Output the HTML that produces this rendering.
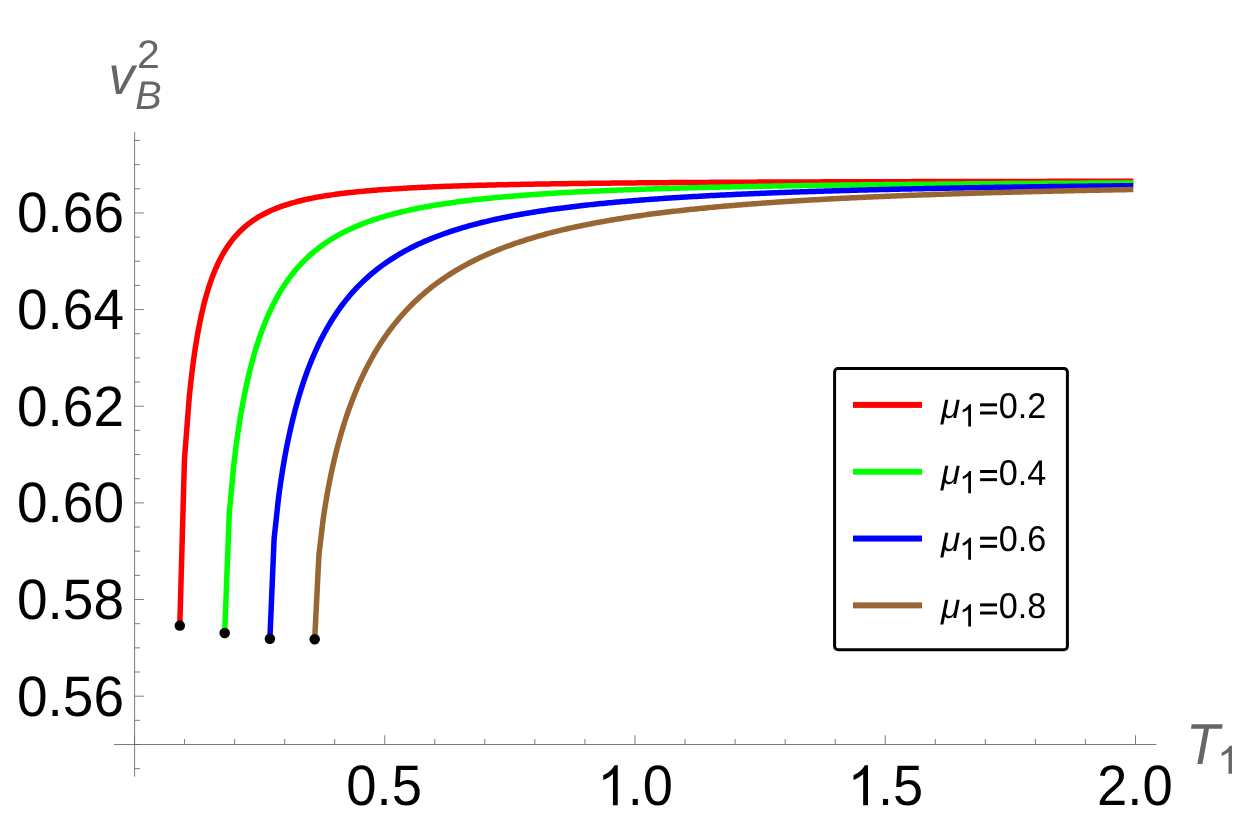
<!DOCTYPE html>
<html><head><meta charset="utf-8"><title>vB2 vs T1</title>
<style>html,body{margin:0;padding:0;background:#fff;}svg{display:block;will-change:transform;}text{font-family:"Liberation Sans",sans-serif;text-rendering:geometricPrecision;}</style>
</head><body>
<svg width="1241" height="835" viewBox="0 0 1241 835">
<rect x="0" y="0" width="1241" height="835" fill="#ffffff"/>
<g stroke="#666666" stroke-width="0.85" fill="none">
<line x1="114" y1="744.5" x2="1156.5" y2="744.5"/>
<line x1="134.62" y1="132.1" x2="134.62" y2="776.7"/>
<line x1="134.5" y1="768.66" x2="140.00" y2="768.66"/>
<line x1="134.5" y1="744.50" x2="140.00" y2="744.50"/>
<line x1="134.5" y1="720.34" x2="140.00" y2="720.34"/>
<line x1="134.5" y1="696.18" x2="143.80" y2="696.18"/>
<line x1="134.5" y1="672.01" x2="140.00" y2="672.01"/>
<line x1="134.5" y1="647.85" x2="140.00" y2="647.85"/>
<line x1="134.5" y1="623.69" x2="140.00" y2="623.69"/>
<line x1="134.5" y1="599.53" x2="143.80" y2="599.53"/>
<line x1="134.5" y1="575.37" x2="140.00" y2="575.37"/>
<line x1="134.5" y1="551.20" x2="140.00" y2="551.20"/>
<line x1="134.5" y1="527.04" x2="140.00" y2="527.04"/>
<line x1="134.5" y1="502.88" x2="143.80" y2="502.88"/>
<line x1="134.5" y1="478.72" x2="140.00" y2="478.72"/>
<line x1="134.5" y1="454.56" x2="140.00" y2="454.56"/>
<line x1="134.5" y1="430.39" x2="140.00" y2="430.39"/>
<line x1="134.5" y1="406.23" x2="143.80" y2="406.23"/>
<line x1="134.5" y1="382.07" x2="140.00" y2="382.07"/>
<line x1="134.5" y1="357.91" x2="140.00" y2="357.91"/>
<line x1="134.5" y1="333.75" x2="140.00" y2="333.75"/>
<line x1="134.5" y1="309.58" x2="143.80" y2="309.58"/>
<line x1="134.5" y1="285.42" x2="140.00" y2="285.42"/>
<line x1="134.5" y1="261.26" x2="140.00" y2="261.26"/>
<line x1="134.5" y1="237.10" x2="140.00" y2="237.10"/>
<line x1="134.5" y1="212.94" x2="143.80" y2="212.94"/>
<line x1="134.5" y1="188.77" x2="140.00" y2="188.77"/>
<line x1="134.5" y1="164.61" x2="140.00" y2="164.61"/>
<line x1="134.5" y1="140.45" x2="140.00" y2="140.45"/>
<line x1="134.50" y1="744.5" x2="134.50" y2="735.20"/>
<line x1="184.55" y1="744.5" x2="184.55" y2="739.00"/>
<line x1="234.60" y1="744.5" x2="234.60" y2="739.00"/>
<line x1="284.65" y1="744.5" x2="284.65" y2="739.00"/>
<line x1="334.70" y1="744.5" x2="334.70" y2="739.00"/>
<line x1="384.75" y1="744.5" x2="384.75" y2="735.20"/>
<line x1="434.79" y1="744.5" x2="434.79" y2="739.00"/>
<line x1="484.84" y1="744.5" x2="484.84" y2="739.00"/>
<line x1="534.89" y1="744.5" x2="534.89" y2="739.00"/>
<line x1="584.94" y1="744.5" x2="584.94" y2="739.00"/>
<line x1="634.99" y1="744.5" x2="634.99" y2="735.20"/>
<line x1="685.04" y1="744.5" x2="685.04" y2="739.00"/>
<line x1="735.09" y1="744.5" x2="735.09" y2="739.00"/>
<line x1="785.14" y1="744.5" x2="785.14" y2="739.00"/>
<line x1="835.19" y1="744.5" x2="835.19" y2="739.00"/>
<line x1="885.24" y1="744.5" x2="885.24" y2="735.20"/>
<line x1="935.28" y1="744.5" x2="935.28" y2="739.00"/>
<line x1="985.33" y1="744.5" x2="985.33" y2="739.00"/>
<line x1="1035.38" y1="744.5" x2="1035.38" y2="739.00"/>
<line x1="1085.43" y1="744.5" x2="1085.43" y2="739.00"/>
<line x1="1135.48" y1="744.5" x2="1135.48" y2="735.20"/>
</g>
<g font-size="55" fill="#000000">
<text transform="matrix(1 0 0 1.037 124.05 715.58)" text-anchor="end">0.56</text>
<text transform="matrix(1 0 0 1.037 124.05 618.93)" text-anchor="end">0.58</text>
<text transform="matrix(1 0 0 1.037 124.05 522.28)" text-anchor="end">0.60</text>
<text transform="matrix(1 0 0 1.037 124.05 425.63)" text-anchor="end">0.62</text>
<text transform="matrix(1 0 0 1.037 124.05 328.98)" text-anchor="end">0.64</text>
<text transform="matrix(1 0 0 1.037 124.05 232.34)" text-anchor="end">0.66</text>
<text transform="matrix(0.99 0 0 1.037 384.14 805.2)" text-anchor="middle">0.5</text>
<text transform="matrix(0.99 0 0 1.037 1134.88 805.2)" text-anchor="middle">2.0</text>
<path d="M763 0H583V1147Q518 1085 412.5 1023T223 930V1104Q373 1174.5 485.5 1275T644 1470H763Z" transform="matrix(0.02686 0 0 -0.02710 597.26 805.20)" fill="#000"/>
<text transform="matrix(0.985 0 0 1.037 627.65 805.2)">.0</text>
<path d="M763 0H583V1147Q518 1085 412.5 1023T223 930V1104Q373 1174.5 485.5 1275T644 1470H763Z" transform="matrix(0.02686 0 0 -0.02710 847.51 805.20)" fill="#000"/>
<text transform="matrix(0.985 0 0 1.037 877.89 805.2)">.5</text>
</g>
<g fill="#666666">
<text transform="matrix(0.9549 0 0 0.9791 108.43 93.85)" font-size="55" font-style="italic">v</text>
<text transform="matrix(1.0497 0 0 1.0227 136.99 67.75)" font-size="39">2</text>
<text transform="matrix(1.0158 0 0 1.0249 135.13 108.70)" font-size="39" font-style="italic">B</text>
<text transform="matrix(0.9967 0 0 1.0505 1185.97 763.80)" font-size="55" font-style="italic">T</text>
<path d="M763 0H583V1147Q518 1085 412.5 1023T223 930V1104Q373 1174.5 485.5 1275T644 1470H763Z" transform="matrix(0.01909 0 0 -0.01895 1217.39 773.70)" fill="#666666"/>
</g>
<g fill="none" stroke-width="5.5" stroke-linejoin="round" stroke-linecap="butt">
<path d="M179.80,625.60 L184.47,459.18 L189.35,396.09 L191.35,377.47 L193.35,361.52 L195.35,347.66 L197.36,335.49 L199.36,324.72 L201.36,315.13 L203.36,306.52 L205.36,298.76 L207.37,291.73 L209.37,285.35 L211.37,279.52 L213.37,274.18 L215.37,269.28 L217.38,264.77 L219.38,260.60 L221.38,256.74 L223.38,253.17 L225.38,249.84 L227.39,246.75 L229.39,243.86 L231.39,241.16 L233.39,238.64 L235.39,236.27 L237.40,234.05 L239.40,231.95 L241.40,229.99 L243.40,228.13 L245.40,226.38 L247.40,224.72 L249.41,223.16 L251.41,221.68 L253.41,220.27 L255.41,218.94 L257.41,217.67 L259.42,216.47 L261.42,215.32 L263.42,214.23 L265.42,213.19 L267.42,212.20 L269.43,211.25 L271.43,210.35 L273.43,209.49 L275.43,208.66 L277.43,207.87 L279.44,207.11 L281.44,206.38 L283.44,205.69 L285.44,205.02 L287.44,204.38 L289.45,203.76 L291.45,203.17 L293.45,202.60 L295.45,202.05 L297.45,201.52 L299.46,201.01 L301.46,200.52 L303.46,200.05 L305.46,199.59 L307.46,199.15 L309.47,198.73 L311.47,198.32 L313.47,197.92 L315.47,197.54 L317.47,197.17 L319.48,196.81 L321.48,196.47 L323.48,196.13 L325.48,195.81 L327.48,195.49 L329.49,195.19 L331.49,194.89 L333.49,194.61 L335.49,194.33 L337.49,194.06 L339.50,193.80 L341.50,193.54 L343.50,193.30 L345.50,193.06 L347.50,192.83 L349.50,192.60 L351.51,192.38 L353.51,192.17 L355.51,191.96 L357.51,191.76 L359.51,191.56 L361.52,191.37 L363.52,191.18 L365.52,191.00 L367.52,190.82 L369.52,190.65 L371.53,190.48 L373.53,190.32 L375.53,190.16 L377.53,190.00 L379.53,189.85 L381.54,189.70 L383.54,189.56 L385.54,189.42 L387.54,189.28 L389.54,189.14 L391.55,189.01 L393.55,188.88 L395.55,188.76 L397.55,188.64 L399.55,188.52 L401.56,188.40 L403.56,188.29 L405.56,188.17 L407.56,188.06 L409.56,187.96 L411.57,187.85 L413.57,187.75 L415.57,187.65 L417.57,187.55 L419.57,187.46 L421.58,187.36 L423.58,187.27 L425.58,187.18 L427.58,187.09 L429.58,187.00 L431.59,186.92 L433.59,186.84 L435.59,186.76 L437.59,186.68 L439.59,186.60 L441.60,186.52 L443.60,186.45 L445.60,186.37 L447.60,186.30 L449.60,186.23 L451.60,186.16 L453.61,186.09 L455.61,186.02 L457.61,185.96 L459.61,185.89 L461.61,185.83 L463.62,185.77 L465.62,185.71 L467.62,185.65 L469.62,185.59 L471.62,185.53 L473.63,185.47 L475.63,185.42 L477.63,185.36 L479.63,185.31 L481.63,185.26 L483.64,185.20 L485.64,185.15 L487.64,185.10 L489.64,185.05 L491.64,185.00 L493.65,184.96 L495.65,184.91 L497.65,184.86 L499.65,184.82 L501.65,184.77 L503.66,184.73 L505.66,184.69 L507.66,184.64 L509.66,184.60 L511.66,184.56 L513.67,184.52 L515.67,184.48 L517.67,184.44 L519.67,184.40 L521.67,184.36 L523.68,184.33 L525.68,184.29 L527.68,184.25 L529.68,184.22 L531.68,184.18 L533.69,184.15 L535.69,184.11 L537.69,184.08 L539.69,184.05 L541.69,184.01 L543.70,183.98 L545.70,183.95 L547.70,183.92 L549.70,183.89 L551.70,183.86 L553.70,183.83 L555.71,183.80 L557.71,183.77 L559.71,183.74 L561.71,183.71 L563.71,183.68 L565.72,183.66 L567.72,183.63 L569.72,183.60 L571.72,183.58 L573.72,183.55 L575.73,183.52 L577.73,183.50 L579.73,183.47 L581.73,183.45 L583.73,183.43 L585.74,183.40 L587.74,183.38 L589.74,183.35 L591.74,183.33 L593.74,183.31 L595.75,183.29 L597.75,183.26 L599.75,183.24 L601.75,183.22 L603.75,183.20 L605.76,183.18 L607.76,183.16 L609.76,183.14 L611.76,183.12 L613.76,183.10 L615.77,183.08 L617.77,183.06 L619.77,183.04 L621.77,183.02 L623.77,183.00 L625.78,182.98 L627.78,182.96 L629.78,182.95 L631.78,182.93 L633.78,182.91 L635.79,182.89 L637.79,182.87 L639.79,182.86 L641.79,182.84 L643.79,182.82 L645.79,182.81 L647.80,182.79 L649.80,182.78 L651.80,182.76 L653.80,182.74 L655.80,182.73 L657.81,182.71 L659.81,182.70 L661.81,182.68 L663.81,182.67 L665.81,182.65 L667.82,182.64 L669.82,182.62 L671.82,182.61 L673.82,182.60 L675.82,182.58 L677.83,182.57 L679.83,182.56 L681.83,182.54 L683.83,182.53 L685.83,182.52 L687.84,182.50 L689.84,182.49 L691.84,182.48 L693.84,182.46 L695.84,182.45 L697.85,182.44 L699.85,182.43 L701.85,182.42 L703.85,182.40 L705.85,182.39 L707.86,182.38 L709.86,182.37 L711.86,182.36 L713.86,182.35 L715.86,182.33 L717.87,182.32 L719.87,182.31 L721.87,182.30 L723.87,182.29 L725.87,182.28 L727.88,182.27 L729.88,182.26 L731.88,182.25 L733.88,182.24 L735.88,182.23 L737.89,182.22 L739.89,182.21 L741.89,182.20 L743.89,182.19 L745.89,182.18 L747.89,182.17 L749.90,182.16 L751.90,182.15 L753.90,182.14 L755.90,182.13 L757.90,182.12 L759.91,182.11 L761.91,182.11 L763.91,182.10 L765.91,182.09 L767.91,182.08 L769.92,182.07 L771.92,182.06 L773.92,182.05 L775.92,182.05 L777.92,182.04 L779.93,182.03 L781.93,182.02 L783.93,182.01 L785.93,182.01 L787.93,182.00 L789.94,181.99 L791.94,181.98 L793.94,181.97 L795.94,181.97 L797.94,181.96 L799.95,181.95 L801.95,181.94 L803.95,181.94 L805.95,181.93 L807.95,181.92 L809.96,181.92 L811.96,181.91 L813.96,181.90 L815.96,181.89 L817.96,181.89 L819.97,181.88 L821.97,181.87 L823.97,181.87 L825.97,181.86 L827.97,181.85 L829.98,181.85 L831.98,181.84 L833.98,181.83 L835.98,181.83 L837.98,181.82 L839.99,181.82 L841.99,181.81 L843.99,181.80 L845.99,181.80 L847.99,181.79 L849.99,181.79 L852.00,181.78 L854.00,181.77 L856.00,181.77 L858.00,181.76 L860.00,181.76 L862.01,181.75 L864.01,181.74 L866.01,181.74 L868.01,181.73 L870.01,181.73 L872.02,181.72 L874.02,181.72 L876.02,181.71 L878.02,181.71 L880.02,181.70 L882.03,181.70 L884.03,181.69 L886.03,181.69 L888.03,181.68 L890.03,181.68 L892.04,181.67 L894.04,181.67 L896.04,181.66 L898.04,181.66 L900.04,181.65 L902.05,181.65 L904.05,181.64 L906.05,181.64 L908.05,181.63 L910.05,181.63 L912.06,181.62 L914.06,181.62 L916.06,181.61 L918.06,181.61 L920.06,181.60 L922.07,181.60 L924.07,181.59 L926.07,181.59 L928.07,181.59 L930.07,181.58 L932.08,181.58 L934.08,181.57 L936.08,181.57 L938.08,181.56 L940.08,181.56 L942.09,181.56 L944.09,181.55 L946.09,181.55 L948.09,181.54 L950.09,181.54 L952.09,181.54 L954.10,181.53 L956.10,181.53 L958.10,181.52 L960.10,181.52 L962.10,181.52 L964.11,181.51 L966.11,181.51 L968.11,181.50 L970.11,181.50 L972.11,181.50 L974.12,181.49 L976.12,181.49 L978.12,181.49 L980.12,181.48 L982.12,181.48 L984.13,181.48 L986.13,181.47 L988.13,181.47 L990.13,181.46 L992.13,181.46 L994.14,181.46 L996.14,181.45 L998.14,181.45 L1000.14,181.45 L1002.14,181.44 L1004.15,181.44 L1006.15,181.44 L1008.15,181.43 L1010.15,181.43 L1012.15,181.43 L1014.16,181.42 L1016.16,181.42 L1018.16,181.42 L1020.16,181.42 L1022.16,181.41 L1024.17,181.41 L1026.17,181.41 L1028.17,181.40 L1030.17,181.40 L1032.17,181.40 L1034.18,181.39 L1036.18,181.39 L1038.18,181.39 L1040.18,181.38 L1042.18,181.38 L1044.19,181.38 L1046.19,181.38 L1048.19,181.37 L1050.19,181.37 L1052.19,181.37 L1054.19,181.36 L1056.20,181.36 L1058.20,181.36 L1060.20,181.36 L1062.20,181.35 L1064.20,181.35 L1066.21,181.35 L1068.21,181.35 L1070.21,181.34 L1072.21,181.34 L1074.21,181.34 L1076.22,181.33 L1078.22,181.33 L1080.22,181.33 L1082.22,181.33 L1084.22,181.32 L1086.23,181.32 L1088.23,181.32 L1090.23,181.32 L1092.23,181.31 L1094.23,181.31 L1096.24,181.31 L1098.24,181.31 L1100.24,181.30 L1102.24,181.30 L1104.24,181.30 L1106.25,181.30 L1108.25,181.30 L1110.25,181.29 L1112.25,181.29 L1114.25,181.29 L1116.26,181.29 L1118.26,181.28 L1120.26,181.28 L1122.26,181.28 L1124.26,181.28 L1126.27,181.27 L1128.27,181.27 L1130.27,181.27 L1132.27,181.27 L1133.30,181.27" stroke="#ff0000"/>
<path d="M224.70,633.00 L229.29,513.05 L233.93,463.55 L235.93,447.19 L237.94,432.73 L239.94,419.77 L241.94,408.06 L243.94,397.38 L245.94,387.59 L247.95,378.57 L249.95,370.22 L251.95,362.46 L253.95,355.23 L255.95,348.48 L257.96,342.16 L259.96,336.22 L261.96,330.63 L263.96,325.37 L265.96,320.40 L267.97,315.70 L269.97,311.25 L271.97,307.04 L273.97,303.03 L275.97,299.23 L277.98,295.61 L279.98,292.16 L281.98,288.87 L283.98,285.73 L285.98,282.74 L287.99,279.87 L289.99,277.13 L291.99,274.51 L293.99,271.99 L295.99,269.58 L298.00,267.26 L300.00,265.04 L302.00,262.91 L304.00,260.85 L306.00,258.88 L308.01,256.98 L310.01,255.15 L312.01,253.39 L314.01,251.69 L316.01,250.05 L318.01,248.47 L320.02,246.94 L322.02,245.46 L324.02,244.04 L326.02,242.66 L328.02,241.33 L330.03,240.04 L332.03,238.79 L334.03,237.58 L336.03,236.41 L338.03,235.28 L340.04,234.18 L342.04,233.12 L344.04,232.08 L346.04,231.08 L348.04,230.11 L350.05,229.16 L352.05,228.25 L354.05,227.35 L356.05,226.49 L358.05,225.65 L360.06,224.83 L362.06,224.03 L364.06,223.26 L366.06,222.50 L368.06,221.77 L370.07,221.05 L372.07,220.36 L374.07,219.68 L376.07,219.02 L378.07,218.38 L380.08,217.75 L382.08,217.14 L384.08,216.54 L386.08,215.96 L388.08,215.39 L390.09,214.84 L392.09,214.30 L394.09,213.77 L396.09,213.26 L398.09,212.75 L400.10,212.26 L402.10,211.78 L404.10,211.31 L406.10,210.85 L408.10,210.41 L410.11,209.97 L412.11,209.54 L414.11,209.12 L416.11,208.71 L418.11,208.31 L420.11,207.92 L422.12,207.53 L424.12,207.16 L426.12,206.79 L428.12,206.43 L430.12,206.08 L432.13,205.73 L434.13,205.39 L436.13,205.06 L438.13,204.73 L440.13,204.42 L442.14,204.10 L444.14,203.80 L446.14,203.50 L448.14,203.20 L450.14,202.92 L452.15,202.63 L454.15,202.36 L456.15,202.08 L458.15,201.82 L460.15,201.55 L462.16,201.30 L464.16,201.04 L466.16,200.80 L468.16,200.55 L470.16,200.31 L472.17,200.08 L474.17,199.85 L476.17,199.62 L478.17,199.40 L480.17,199.18 L482.18,198.97 L484.18,198.76 L486.18,198.55 L488.18,198.35 L490.18,198.15 L492.19,197.95 L494.19,197.76 L496.19,197.57 L498.19,197.38 L500.19,197.19 L502.20,197.01 L504.20,196.84 L506.20,196.66 L508.20,196.49 L510.20,196.32 L512.20,196.15 L514.21,195.99 L516.21,195.83 L518.21,195.67 L520.21,195.51 L522.21,195.36 L524.22,195.21 L526.22,195.06 L528.22,194.91 L530.22,194.77 L532.22,194.63 L534.23,194.48 L536.23,194.35 L538.23,194.21 L540.23,194.08 L542.23,193.94 L544.24,193.81 L546.24,193.69 L548.24,193.56 L550.24,193.44 L552.24,193.31 L554.25,193.19 L556.25,193.07 L558.25,192.96 L560.25,192.84 L562.25,192.73 L564.26,192.61 L566.26,192.50 L568.26,192.39 L570.26,192.29 L572.26,192.18 L574.27,192.08 L576.27,191.97 L578.27,191.87 L580.27,191.77 L582.27,191.67 L584.28,191.57 L586.28,191.48 L588.28,191.38 L590.28,191.29 L592.28,191.19 L594.29,191.10 L596.29,191.01 L598.29,190.92 L600.29,190.83 L602.29,190.75 L604.30,190.66 L606.30,190.58 L608.30,190.49 L610.30,190.41 L612.30,190.33 L614.30,190.25 L616.31,190.17 L618.31,190.09 L620.31,190.01 L622.31,189.94 L624.31,189.86 L626.32,189.79 L628.32,189.71 L630.32,189.64 L632.32,189.57 L634.32,189.50 L636.33,189.43 L638.33,189.36 L640.33,189.29 L642.33,189.22 L644.33,189.15 L646.34,189.09 L648.34,189.02 L650.34,188.96 L652.34,188.89 L654.34,188.83 L656.35,188.77 L658.35,188.71 L660.35,188.64 L662.35,188.58 L664.35,188.52 L666.36,188.47 L668.36,188.41 L670.36,188.35 L672.36,188.29 L674.36,188.24 L676.37,188.18 L678.37,188.13 L680.37,188.07 L682.37,188.02 L684.37,187.96 L686.38,187.91 L688.38,187.86 L690.38,187.81 L692.38,187.76 L694.38,187.71 L696.39,187.66 L698.39,187.61 L700.39,187.56 L702.39,187.51 L704.39,187.46 L706.40,187.41 L708.40,187.37 L710.40,187.32 L712.40,187.28 L714.40,187.23 L716.40,187.19 L718.41,187.14 L720.41,187.10 L722.41,187.05 L724.41,187.01 L726.41,186.97 L728.42,186.93 L730.42,186.88 L732.42,186.84 L734.42,186.80 L736.42,186.76 L738.43,186.72 L740.43,186.68 L742.43,186.64 L744.43,186.60 L746.43,186.56 L748.44,186.53 L750.44,186.49 L752.44,186.45 L754.44,186.41 L756.44,186.38 L758.45,186.34 L760.45,186.30 L762.45,186.27 L764.45,186.23 L766.45,186.20 L768.46,186.16 L770.46,186.13 L772.46,186.10 L774.46,186.06 L776.46,186.03 L778.47,186.00 L780.47,185.96 L782.47,185.93 L784.47,185.90 L786.47,185.87 L788.48,185.83 L790.48,185.80 L792.48,185.77 L794.48,185.74 L796.48,185.71 L798.49,185.68 L800.49,185.65 L802.49,185.62 L804.49,185.59 L806.49,185.56 L808.50,185.53 L810.50,185.51 L812.50,185.48 L814.50,185.45 L816.50,185.42 L818.50,185.39 L820.51,185.37 L822.51,185.34 L824.51,185.31 L826.51,185.29 L828.51,185.26 L830.52,185.23 L832.52,185.21 L834.52,185.18 L836.52,185.16 L838.52,185.13 L840.53,185.11 L842.53,185.08 L844.53,185.06 L846.53,185.03 L848.53,185.01 L850.54,184.98 L852.54,184.96 L854.54,184.94 L856.54,184.91 L858.54,184.89 L860.55,184.87 L862.55,184.84 L864.55,184.82 L866.55,184.80 L868.55,184.78 L870.56,184.75 L872.56,184.73 L874.56,184.71 L876.56,184.69 L878.56,184.67 L880.57,184.65 L882.57,184.63 L884.57,184.60 L886.57,184.58 L888.57,184.56 L890.58,184.54 L892.58,184.52 L894.58,184.50 L896.58,184.48 L898.58,184.46 L900.59,184.44 L902.59,184.42 L904.59,184.41 L906.59,184.39 L908.59,184.37 L910.60,184.35 L912.60,184.33 L914.60,184.31 L916.60,184.29 L918.60,184.27 L920.60,184.26 L922.61,184.24 L924.61,184.22 L926.61,184.20 L928.61,184.19 L930.61,184.17 L932.62,184.15 L934.62,184.13 L936.62,184.12 L938.62,184.10 L940.62,184.08 L942.63,184.07 L944.63,184.05 L946.63,184.03 L948.63,184.02 L950.63,184.00 L952.64,183.98 L954.64,183.97 L956.64,183.95 L958.64,183.94 L960.64,183.92 L962.65,183.91 L964.65,183.89 L966.65,183.87 L968.65,183.86 L970.65,183.84 L972.66,183.83 L974.66,183.81 L976.66,183.80 L978.66,183.79 L980.66,183.77 L982.67,183.76 L984.67,183.74 L986.67,183.73 L988.67,183.71 L990.67,183.70 L992.68,183.69 L994.68,183.67 L996.68,183.66 L998.68,183.64 L1000.68,183.63 L1002.69,183.62 L1004.69,183.60 L1006.69,183.59 L1008.69,183.58 L1010.69,183.57 L1012.69,183.55 L1014.70,183.54 L1016.70,183.53 L1018.70,183.51 L1020.70,183.50 L1022.70,183.49 L1024.71,183.48 L1026.71,183.46 L1028.71,183.45 L1030.71,183.44 L1032.71,183.43 L1034.72,183.42 L1036.72,183.40 L1038.72,183.39 L1040.72,183.38 L1042.72,183.37 L1044.73,183.36 L1046.73,183.34 L1048.73,183.33 L1050.73,183.32 L1052.73,183.31 L1054.74,183.30 L1056.74,183.29 L1058.74,183.28 L1060.74,183.27 L1062.74,183.25 L1064.75,183.24 L1066.75,183.23 L1068.75,183.22 L1070.75,183.21 L1072.75,183.20 L1074.76,183.19 L1076.76,183.18 L1078.76,183.17 L1080.76,183.16 L1082.76,183.15 L1084.77,183.14 L1086.77,183.13 L1088.77,183.12 L1090.77,183.11 L1092.77,183.10 L1094.78,183.09 L1096.78,183.08 L1098.78,183.07 L1100.78,183.06 L1102.78,183.05 L1104.79,183.04 L1106.79,183.03 L1108.79,183.02 L1110.79,183.01 L1112.79,183.00 L1114.79,182.99 L1116.80,182.98 L1118.80,182.97 L1120.80,182.96 L1122.80,182.96 L1124.80,182.95 L1126.81,182.94 L1128.81,182.93 L1130.81,182.92 L1132.81,182.91 L1133.30,182.91" stroke="#00ff00"/>
<path d="M269.90,638.70 L274.10,538.83 L278.52,497.84 L280.52,483.28 L282.52,470.30 L284.52,458.57 L286.52,447.84 L288.53,437.96 L290.53,428.81 L292.53,420.29 L294.53,412.33 L296.53,404.85 L298.54,397.81 L300.54,391.17 L302.54,384.89 L304.54,378.93 L306.54,373.28 L308.55,367.90 L310.55,362.78 L312.55,357.89 L314.55,353.22 L316.55,348.76 L318.56,344.49 L320.56,340.39 L322.56,336.46 L324.56,332.69 L326.56,329.07 L328.57,325.59 L330.57,322.23 L332.57,319.01 L334.57,315.90 L336.57,312.90 L338.58,310.00 L340.58,307.21 L342.58,304.51 L344.58,301.91 L346.58,299.39 L348.59,296.95 L350.59,294.59 L352.59,292.30 L354.59,290.09 L356.59,287.94 L358.60,285.86 L360.60,283.85 L362.60,281.89 L364.60,279.99 L366.60,278.15 L368.61,276.35 L370.61,274.61 L372.61,272.92 L374.61,271.28 L376.61,269.68 L378.62,268.12 L380.62,266.61 L382.62,265.13 L384.62,263.70 L386.62,262.30 L388.62,260.94 L390.63,259.61 L392.63,258.32 L394.63,257.06 L396.63,255.83 L398.63,254.63 L400.64,253.46 L402.64,252.32 L404.64,251.20 L406.64,250.12 L408.64,249.05 L410.65,248.02 L412.65,247.00 L414.65,246.01 L416.65,245.04 L418.65,244.10 L420.66,243.17 L422.66,242.27 L424.66,241.38 L426.66,240.52 L428.66,239.67 L430.67,238.84 L432.67,238.03 L434.67,237.24 L436.67,236.46 L438.67,235.70 L440.68,234.96 L442.68,234.23 L444.68,233.51 L446.68,232.81 L448.68,232.13 L450.69,231.45 L452.69,230.79 L454.69,230.15 L456.69,229.51 L458.69,228.89 L460.70,228.28 L462.70,227.69 L464.70,227.10 L466.70,226.52 L468.70,225.96 L470.71,225.41 L472.71,224.86 L474.71,224.33 L476.71,223.80 L478.71,223.29 L480.71,222.78 L482.72,222.29 L484.72,221.80 L486.72,221.32 L488.72,220.85 L490.72,220.39 L492.73,219.93 L494.73,219.49 L496.73,219.05 L498.73,218.62 L500.73,218.19 L502.74,217.78 L504.74,217.37 L506.74,216.96 L508.74,216.57 L510.74,216.18 L512.75,215.79 L514.75,215.42 L516.75,215.05 L518.75,214.68 L520.75,214.32 L522.76,213.97 L524.76,213.62 L526.76,213.28 L528.76,212.94 L530.76,212.61 L532.77,212.28 L534.77,211.96 L536.77,211.64 L538.77,211.33 L540.77,211.03 L542.78,210.72 L544.78,210.43 L546.78,210.13 L548.78,209.84 L550.78,209.56 L552.79,209.28 L554.79,209.00 L556.79,208.73 L558.79,208.46 L560.79,208.19 L562.80,207.93 L564.80,207.68 L566.80,207.42 L568.80,207.17 L570.80,206.93 L572.81,206.68 L574.81,206.44 L576.81,206.21 L578.81,205.97 L580.81,205.74 L582.81,205.52 L584.82,205.29 L586.82,205.07 L588.82,204.86 L590.82,204.64 L592.82,204.43 L594.83,204.22 L596.83,204.01 L598.83,203.81 L600.83,203.61 L602.83,203.41 L604.84,203.22 L606.84,203.02 L608.84,202.83 L610.84,202.64 L612.84,202.46 L614.85,202.28 L616.85,202.09 L618.85,201.92 L620.85,201.74 L622.85,201.56 L624.86,201.39 L626.86,201.22 L628.86,201.05 L630.86,200.89 L632.86,200.72 L634.87,200.56 L636.87,200.40 L638.87,200.25 L640.87,200.09 L642.87,199.93 L644.88,199.78 L646.88,199.63 L648.88,199.48 L650.88,199.34 L652.88,199.19 L654.89,199.05 L656.89,198.91 L658.89,198.77 L660.89,198.63 L662.89,198.49 L664.90,198.35 L666.90,198.22 L668.90,198.09 L670.90,197.96 L672.90,197.83 L674.91,197.70 L676.91,197.57 L678.91,197.45 L680.91,197.32 L682.91,197.20 L684.91,197.08 L686.92,196.96 L688.92,196.84 L690.92,196.73 L692.92,196.61 L694.92,196.50 L696.93,196.38 L698.93,196.27 L700.93,196.16 L702.93,196.05 L704.93,195.94 L706.94,195.83 L708.94,195.73 L710.94,195.62 L712.94,195.52 L714.94,195.42 L716.95,195.31 L718.95,195.21 L720.95,195.11 L722.95,195.02 L724.95,194.92 L726.96,194.82 L728.96,194.73 L730.96,194.63 L732.96,194.54 L734.96,194.44 L736.97,194.35 L738.97,194.26 L740.97,194.17 L742.97,194.08 L744.97,193.99 L746.98,193.91 L748.98,193.82 L750.98,193.73 L752.98,193.65 L754.98,193.57 L756.99,193.48 L758.99,193.40 L760.99,193.32 L762.99,193.24 L764.99,193.16 L767.00,193.08 L769.00,193.00 L771.00,192.92 L773.00,192.85 L775.00,192.77 L777.01,192.69 L779.01,192.62 L781.01,192.54 L783.01,192.47 L785.01,192.40 L787.01,192.33 L789.02,192.26 L791.02,192.18 L793.02,192.11 L795.02,192.04 L797.02,191.98 L799.03,191.91 L801.03,191.84 L803.03,191.77 L805.03,191.71 L807.03,191.64 L809.04,191.58 L811.04,191.51 L813.04,191.45 L815.04,191.38 L817.04,191.32 L819.05,191.26 L821.05,191.20 L823.05,191.14 L825.05,191.07 L827.05,191.01 L829.06,190.96 L831.06,190.90 L833.06,190.84 L835.06,190.78 L837.06,190.72 L839.07,190.66 L841.07,190.61 L843.07,190.55 L845.07,190.50 L847.07,190.44 L849.08,190.39 L851.08,190.33 L853.08,190.28 L855.08,190.22 L857.08,190.17 L859.09,190.12 L861.09,190.07 L863.09,190.02 L865.09,189.96 L867.09,189.91 L869.10,189.86 L871.10,189.81 L873.10,189.76 L875.10,189.71 L877.10,189.67 L879.11,189.62 L881.11,189.57 L883.11,189.52 L885.11,189.48 L887.11,189.43 L889.11,189.38 L891.12,189.34 L893.12,189.29 L895.12,189.25 L897.12,189.20 L899.12,189.16 L901.13,189.11 L903.13,189.07 L905.13,189.02 L907.13,188.98 L909.13,188.94 L911.14,188.90 L913.14,188.85 L915.14,188.81 L917.14,188.77 L919.14,188.73 L921.15,188.69 L923.15,188.65 L925.15,188.61 L927.15,188.57 L929.15,188.53 L931.16,188.49 L933.16,188.45 L935.16,188.41 L937.16,188.37 L939.16,188.33 L941.17,188.30 L943.17,188.26 L945.17,188.22 L947.17,188.18 L949.17,188.15 L951.18,188.11 L953.18,188.07 L955.18,188.04 L957.18,188.00 L959.18,187.97 L961.19,187.93 L963.19,187.90 L965.19,187.86 L967.19,187.83 L969.19,187.79 L971.20,187.76 L973.20,187.72 L975.20,187.69 L977.20,187.66 L979.20,187.63 L981.20,187.59 L983.21,187.56 L985.21,187.53 L987.21,187.50 L989.21,187.46 L991.21,187.43 L993.22,187.40 L995.22,187.37 L997.22,187.34 L999.22,187.31 L1001.22,187.28 L1003.23,187.25 L1005.23,187.22 L1007.23,187.19 L1009.23,187.16 L1011.23,187.13 L1013.24,187.10 L1015.24,187.07 L1017.24,187.04 L1019.24,187.01 L1021.24,186.98 L1023.25,186.96 L1025.25,186.93 L1027.25,186.90 L1029.25,186.87 L1031.25,186.84 L1033.26,186.82 L1035.26,186.79 L1037.26,186.76 L1039.26,186.74 L1041.26,186.71 L1043.27,186.68 L1045.27,186.66 L1047.27,186.63 L1049.27,186.60 L1051.27,186.58 L1053.28,186.55 L1055.28,186.53 L1057.28,186.50 L1059.28,186.48 L1061.28,186.45 L1063.29,186.43 L1065.29,186.40 L1067.29,186.38 L1069.29,186.35 L1071.29,186.33 L1073.30,186.31 L1075.30,186.28 L1077.30,186.26 L1079.30,186.23 L1081.30,186.21 L1083.30,186.19 L1085.31,186.17 L1087.31,186.14 L1089.31,186.12 L1091.31,186.10 L1093.31,186.07 L1095.32,186.05 L1097.32,186.03 L1099.32,186.01 L1101.32,185.99 L1103.32,185.96 L1105.33,185.94 L1107.33,185.92 L1109.33,185.90 L1111.33,185.88 L1113.33,185.86 L1115.34,185.84 L1117.34,185.81 L1119.34,185.79 L1121.34,185.77 L1123.34,185.75 L1125.35,185.73 L1127.35,185.71 L1129.35,185.69 L1131.35,185.67 L1133.30,185.65" stroke="#0000ff"/>
<path d="M314.70,639.30 L318.93,554.74 L323.12,519.58 L325.12,506.30 L327.12,494.42 L329.12,483.64 L331.12,473.75 L333.13,464.60 L335.13,456.08 L337.13,448.11 L339.13,440.61 L341.13,433.54 L343.14,426.86 L345.14,420.51 L347.14,414.47 L349.14,408.72 L351.14,403.24 L353.15,397.99 L355.15,392.97 L357.15,388.15 L359.15,383.53 L361.15,379.08 L363.16,374.81 L365.16,370.70 L367.16,366.73 L369.16,362.91 L371.16,359.22 L373.17,355.65 L375.17,352.21 L377.17,348.87 L379.17,345.65 L381.17,342.52 L383.18,339.50 L385.18,336.56 L387.18,333.72 L389.18,330.96 L391.18,328.28 L393.18,325.68 L395.19,323.15 L397.19,320.69 L399.19,318.30 L401.19,315.98 L403.19,313.71 L405.20,311.51 L407.20,309.37 L409.20,307.28 L411.20,305.25 L413.20,303.27 L415.21,301.33 L417.21,299.45 L419.21,297.61 L421.21,295.82 L423.21,294.07 L425.22,292.36 L427.22,290.69 L429.22,289.06 L431.22,287.47 L433.22,285.92 L435.23,284.40 L437.23,282.91 L439.23,281.46 L441.23,280.04 L443.23,278.65 L445.24,277.29 L447.24,275.96 L449.24,274.66 L451.24,273.38 L453.24,272.14 L455.25,270.92 L457.25,269.72 L459.25,268.55 L461.25,267.40 L463.25,266.27 L465.26,265.17 L467.26,264.09 L469.26,263.03 L471.26,261.99 L473.26,260.98 L475.27,259.98 L477.27,259.00 L479.27,258.04 L481.27,257.09 L483.27,256.17 L485.28,255.26 L487.28,254.37 L489.28,253.49 L491.28,252.63 L493.28,251.79 L495.28,250.96 L497.29,250.14 L499.29,249.35 L501.29,248.56 L503.29,247.79 L505.29,247.03 L507.30,246.28 L509.30,245.55 L511.30,244.83 L513.30,244.12 L515.30,243.43 L517.31,242.74 L519.31,242.07 L521.31,241.41 L523.31,240.76 L525.31,240.12 L527.32,239.49 L529.32,238.87 L531.32,238.26 L533.32,237.66 L535.32,237.07 L537.33,236.48 L539.33,235.91 L541.33,235.35 L543.33,234.79 L545.33,234.25 L547.34,233.71 L549.34,233.18 L551.34,232.66 L553.34,232.14 L555.34,231.64 L557.35,231.14 L559.35,230.65 L561.35,230.17 L563.35,229.69 L565.35,229.22 L567.36,228.76 L569.36,228.30 L571.36,227.85 L573.36,227.41 L575.36,226.97 L577.37,226.54 L579.37,226.11 L581.37,225.70 L583.37,225.28 L585.37,224.88 L587.38,224.47 L589.38,224.08 L591.38,223.69 L593.38,223.30 L595.38,222.92 L597.38,222.55 L599.39,222.18 L601.39,221.81 L603.39,221.45 L605.39,221.10 L607.39,220.75 L609.40,220.40 L611.40,220.06 L613.40,219.72 L615.40,219.39 L617.40,219.06 L619.41,218.74 L621.41,218.42 L623.41,218.10 L625.41,217.79 L627.41,217.48 L629.42,217.18 L631.42,216.87 L633.42,216.58 L635.42,216.29 L637.42,216.00 L639.43,215.71 L641.43,215.43 L643.43,215.15 L645.43,214.87 L647.43,214.60 L649.44,214.33 L651.44,214.07 L653.44,213.80 L655.44,213.54 L657.44,213.29 L659.45,213.03 L661.45,212.78 L663.45,212.54 L665.45,212.29 L667.45,212.05 L669.46,211.81 L671.46,211.57 L673.46,211.34 L675.46,211.11 L677.46,210.88 L679.47,210.66 L681.47,210.43 L683.47,210.21 L685.47,209.99 L687.47,209.78 L689.48,209.57 L691.48,209.35 L693.48,209.15 L695.48,208.94 L697.48,208.73 L699.48,208.53 L701.49,208.33 L703.49,208.14 L705.49,207.94 L707.49,207.75 L709.49,207.56 L711.50,207.37 L713.50,207.18 L715.50,206.99 L717.50,206.81 L719.50,206.63 L721.51,206.45 L723.51,206.27 L725.51,206.10 L727.51,205.92 L729.51,205.75 L731.52,205.58 L733.52,205.41 L735.52,205.24 L737.52,205.08 L739.52,204.92 L741.53,204.75 L743.53,204.59 L745.53,204.44 L747.53,204.28 L749.53,204.12 L751.54,203.97 L753.54,203.82 L755.54,203.67 L757.54,203.52 L759.54,203.37 L761.55,203.22 L763.55,203.08 L765.55,202.93 L767.55,202.79 L769.55,202.65 L771.56,202.51 L773.56,202.37 L775.56,202.23 L777.56,202.10 L779.56,201.96 L781.57,201.83 L783.57,201.70 L785.57,201.57 L787.57,201.44 L789.57,201.31 L791.57,201.18 L793.58,201.06 L795.58,200.93 L797.58,200.81 L799.58,200.69 L801.58,200.57 L803.59,200.45 L805.59,200.33 L807.59,200.21 L809.59,200.09 L811.59,199.98 L813.60,199.86 L815.60,199.75 L817.60,199.64 L819.60,199.52 L821.60,199.41 L823.61,199.30 L825.61,199.19 L827.61,199.09 L829.61,198.98 L831.61,198.87 L833.62,198.77 L835.62,198.66 L837.62,198.56 L839.62,198.46 L841.62,198.36 L843.63,198.26 L845.63,198.16 L847.63,198.06 L849.63,197.96 L851.63,197.86 L853.64,197.77 L855.64,197.67 L857.64,197.58 L859.64,197.48 L861.64,197.39 L863.65,197.30 L865.65,197.21 L867.65,197.11 L869.65,197.02 L871.65,196.94 L873.66,196.85 L875.66,196.76 L877.66,196.67 L879.66,196.59 L881.66,196.50 L883.67,196.41 L885.67,196.33 L887.67,196.25 L889.67,196.16 L891.67,196.08 L893.67,196.00 L895.68,195.92 L897.68,195.84 L899.68,195.76 L901.68,195.68 L903.68,195.60 L905.69,195.52 L907.69,195.44 L909.69,195.37 L911.69,195.29 L913.69,195.22 L915.70,195.14 L917.70,195.07 L919.70,194.99 L921.70,194.92 L923.70,194.85 L925.71,194.78 L927.71,194.70 L929.71,194.63 L931.71,194.56 L933.71,194.49 L935.72,194.42 L937.72,194.36 L939.72,194.29 L941.72,194.22 L943.72,194.15 L945.73,194.08 L947.73,194.02 L949.73,193.95 L951.73,193.89 L953.73,193.82 L955.74,193.76 L957.74,193.69 L959.74,193.63 L961.74,193.57 L963.74,193.51 L965.75,193.44 L967.75,193.38 L969.75,193.32 L971.75,193.26 L973.75,193.20 L975.76,193.14 L977.76,193.08 L979.76,193.02 L981.76,192.96 L983.76,192.91 L985.77,192.85 L987.77,192.79 L989.77,192.73 L991.77,192.68 L993.77,192.62 L995.77,192.57 L997.78,192.51 L999.78,192.46 L1001.78,192.40 L1003.78,192.35 L1005.78,192.29 L1007.79,192.24 L1009.79,192.19 L1011.79,192.13 L1013.79,192.08 L1015.79,192.03 L1017.80,191.98 L1019.80,191.93 L1021.80,191.88 L1023.80,191.83 L1025.80,191.77 L1027.81,191.73 L1029.81,191.68 L1031.81,191.63 L1033.81,191.58 L1035.81,191.53 L1037.82,191.48 L1039.82,191.43 L1041.82,191.39 L1043.82,191.34 L1045.82,191.29 L1047.83,191.24 L1049.83,191.20 L1051.83,191.15 L1053.83,191.11 L1055.83,191.06 L1057.84,191.02 L1059.84,190.97 L1061.84,190.93 L1063.84,190.88 L1065.84,190.84 L1067.85,190.80 L1069.85,190.75 L1071.85,190.71 L1073.85,190.67 L1075.85,190.62 L1077.86,190.58 L1079.86,190.54 L1081.86,190.50 L1083.86,190.46 L1085.86,190.41 L1087.87,190.37 L1089.87,190.33 L1091.87,190.29 L1093.87,190.25 L1095.87,190.21 L1097.87,190.17 L1099.88,190.13 L1101.88,190.09 L1103.88,190.06 L1105.88,190.02 L1107.88,189.98 L1109.89,189.94 L1111.89,189.90 L1113.89,189.86 L1115.89,189.83 L1117.89,189.79 L1119.90,189.75 L1121.90,189.72 L1123.90,189.68 L1125.90,189.64 L1127.90,189.61 L1129.91,189.57 L1131.91,189.54 L1133.30,189.51" stroke="#996633"/>
</g>
<g fill="#000000">
<circle cx="179.8" cy="625.6" r="5.25"/>
<circle cx="224.7" cy="633.0" r="5.25"/>
<circle cx="269.9" cy="638.7" r="5.25"/>
<circle cx="314.7" cy="639.3" r="5.25"/>
</g>
<rect x="834.6" y="368.5" width="232.8" height="281.2" rx="3.5" ry="3.5" fill="#ffffff" stroke="#000000" stroke-width="3"/>
<rect x="853" y="401.90" width="69" height="6" fill="#ff0000"/>
<text transform="matrix(1.0194 0 0 0.9993 941.10 417.78)" font-size="34.5" font-style="italic" fill="#000">μ</text>
<path d="M763 0H583V1147Q518 1085 412.5 1023T223 930V1104Q373 1174.5 485.5 1275T644 1470H763Z" transform="matrix(0.01533 0 0 -0.01507 959.30 426.45)" fill="#000"/>
<rect x="980.1" y="403.35" width="16.94" height="2.99" fill="#000"/>
<rect x="980.1" y="411.52" width="16.94" height="2.94" fill="#000"/>
<text transform="matrix(1 0 0 1.045 998.66 418.05)" font-size="34.2" fill="#000">0.2</text>
<rect x="853" y="468.72" width="69" height="6" fill="#00ff00"/>
<text transform="matrix(1.0194 0 0 0.9993 941.10 484.46)" font-size="34.5" font-style="italic" fill="#000">μ</text>
<path d="M763 0H583V1147Q518 1085 412.5 1023T223 930V1104Q373 1174.5 485.5 1275T644 1470H763Z" transform="matrix(0.01533 0 0 -0.01507 959.30 493.13)" fill="#000"/>
<rect x="980.1" y="470.03" width="16.94" height="2.99" fill="#000"/>
<rect x="980.1" y="478.20" width="16.94" height="2.94" fill="#000"/>
<text transform="matrix(1 0 0 1.045 998.66 484.73)" font-size="34.2" fill="#000">0.4</text>
<rect x="853" y="535.54" width="69" height="6" fill="#0000ff"/>
<text transform="matrix(1.0194 0 0 0.9993 941.10 551.14)" font-size="34.5" font-style="italic" fill="#000">μ</text>
<path d="M763 0H583V1147Q518 1085 412.5 1023T223 930V1104Q373 1174.5 485.5 1275T644 1470H763Z" transform="matrix(0.01533 0 0 -0.01507 959.30 559.81)" fill="#000"/>
<rect x="980.1" y="536.71" width="16.94" height="2.99" fill="#000"/>
<rect x="980.1" y="544.88" width="16.94" height="2.94" fill="#000"/>
<text transform="matrix(1 0 0 1.045 998.66 551.41)" font-size="34.2" fill="#000">0.6</text>
<rect x="853" y="602.36" width="69" height="6" fill="#996633"/>
<text transform="matrix(1.0194 0 0 0.9993 941.10 617.82)" font-size="34.5" font-style="italic" fill="#000">μ</text>
<path d="M763 0H583V1147Q518 1085 412.5 1023T223 930V1104Q373 1174.5 485.5 1275T644 1470H763Z" transform="matrix(0.01533 0 0 -0.01507 959.30 626.49)" fill="#000"/>
<rect x="980.1" y="603.39" width="16.94" height="2.99" fill="#000"/>
<rect x="980.1" y="611.56" width="16.94" height="2.94" fill="#000"/>
<text transform="matrix(1 0 0 1.045 998.66 618.09)" font-size="34.2" fill="#000">0.8</text>
</svg>
</body></html>
